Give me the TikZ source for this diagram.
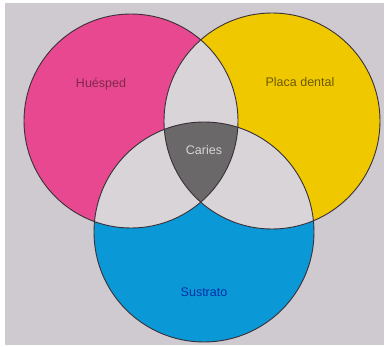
\documentclass[tikz,border=0pt]{standalone}
\usepackage{fontspec}
\setmainfont{Liberation Sans}
\definecolor{bgray}{HTML}{CFCACF}
\definecolor{lensgray}{HTML}{D8D4D8}
\definecolor{vmag}{HTML}{E8488F}
\definecolor{vyel}{HTML}{F0C800}
\definecolor{vcya}{HTML}{0A98D6}
\definecolor{vdark}{HTML}{6A6869}
\definecolor{vline}{HTML}{3A3038}
\begin{document}
\begin{tikzpicture}[x=1pt,y=-1pt,
  lbl/.style={font=\fontsize{12.5}{14}\selectfont, inner sep=0pt},
  outline/.style={draw=vline, line width=0.9pt}]
\useasboundingbox (0,0) rectangle (386,347);
\fill[white] (0,0) rectangle (386,347);
\fill[bgray] (5,3) rectangle (384,345);
\def\cm{(131,121) circle (107)}
\def\cy{(272,121) circle (108)}
\def\cc{(204,232) circle (110)}
\fill[vmag] \cm;
\fill[vyel] \cy;
\fill[vcya] \cc;
\begin{scope}\clip \cm; \fill[lensgray] \cy; \fill[lensgray] \cc; \end{scope}
\begin{scope}\clip \cy; \fill[lensgray] \cc; \end{scope}
\begin{scope}\clip \cm; \clip \cy; \fill[vdark] \cc; \end{scope}
\draw[outline] \cm;
\draw[outline] \cy;
\draw[outline] \cc;
\node[lbl, text=vmag!55!black] (hues) at (101,84) {Huésped};
\node[lbl, text=vyel!45!black] (placa) at (300,82) {Placa dental};
\node[lbl, text=lensgray] (caries) at (204,150) {Caries};
\node[lbl, text=vcya!45!blue!70!black] (sust) at (204,292) {Sustrato};
\end{tikzpicture}
\end{document}
